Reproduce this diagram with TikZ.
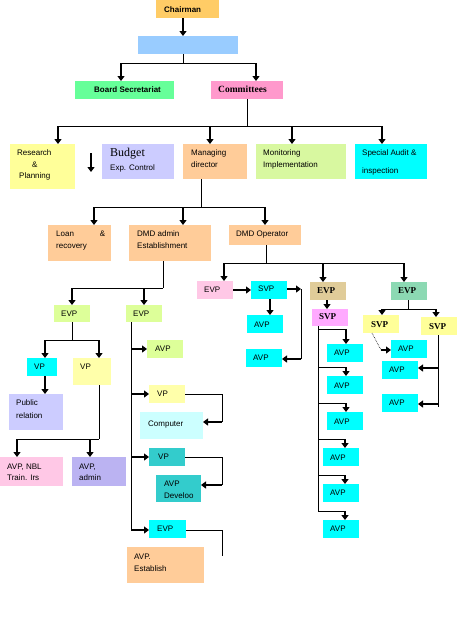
\documentclass[tikz,border=0pt]{standalone}
\usepackage{fontspec}
\setmainfont{Liberation Sans}
\newfontfamily\serifb{Liberation Serif}
\usetikzlibrary{arrows.meta,fit}
\definecolor{cChair}{HTML}{FFCC66}
\definecolor{cBlue}{HTML}{99CCFF}
\definecolor{cBsec}{HTML}{66FF99}
\definecolor{cComm}{HTML}{FF99CC}
\definecolor{cYel}{HTML}{FFFF99}
\definecolor{cYel2}{HTML}{FFFFAA}
\definecolor{cLav}{HTML}{CCCCFF}
\definecolor{cOra}{HTML}{FFCC99}
\definecolor{cMon}{HTML}{D8F8A0}
\definecolor{cCyan}{HTML}{00FFFF}
\definecolor{cYG}{HTML}{DDFF99}
\definecolor{cPinkL}{HTML}{FFC8E6}
\definecolor{cTan}{HTML}{E0CC99}
\definecolor{cPink}{HTML}{FFAAFF}
\definecolor{cGreen}{HTML}{8CD9B3}
\definecolor{cPurp}{HTML}{BBB3F2}
\definecolor{cCompC}{HTML}{CCFFFF}
\definecolor{cTeal}{HTML}{33CCCC}
\newcommand\bx[6]{\node[bxs,fill=#6,fit={(#2,#3) (#4,#5)}] (#1) {};}
\newcommand\tl[4]{\node[tx] (#1) at (#2,#3) {#4};}
\newcommand\SBf[1]{{\serifb\bfseries\fontsize{9}{10}\selectfont #1}}
\begin{document}
\begin{tikzpicture}[x=1pt,y=-1pt,
  bxs/.style={inner sep=0pt,outer sep=0pt,draw=none},
  tx/.style={inner sep=0pt,anchor=west,font=\fontsize{8}{9.6}\selectfont,text height=5.8pt,text depth=0pt},
  arr/.style={line width=1.6pt,-{Triangle[width=7pt,length=5pt]}},
  ln/.style={line width=0.9pt}]
\fill[white] (0,0) rectangle (471,637);
\useasboundingbox (0,0) rectangle (471,637);
% boxes
\bx{chair}{156}{0}{219}{18}{cChair}
\bx{blue}{138}{36}{238}{54}{cBlue}
\bx{bsec}{75}{81}{174}{99}{cBsec}
\bx{comm}{211}{81}{283}{99}{cComm}
\bx{res}{10}{144}{75}{189}{cYel}
\bx{bud}{102}{144}{174}{179}{cLav}
\bx{md}{183}{144}{247}{179}{cOra}
\bx{mon}{256}{144}{346}{179}{cMon}
\bx{aud}{355}{144}{427}{179}{cCyan}
\bx{loan}{48}{225}{111}{261}{cOra}
\bx{dmda}{129}{225}{211}{261}{cOra}
\bx{dmdo}{229}{225}{301}{245}{cOra}
\bx{evpa}{54}{305}{90}{322}{cYG}
\bx{evpb}{126}{305}{162}{322}{cYG}
\bx{evpp}{197}{281}{233}{299}{cPinkL}
\bx{svpc}{251}{281}{287}{299}{cCyan}
\bx{avpca}{247}{315}{283}{333}{cCyan}
\bx{avpcb}{246}{349}{282}{367}{cCyan}
\bx{evpt}{310}{282}{346}{300}{cTan}
\bx{svpp}{312}{309}{348}{326}{cPink}
\bx{avppa}{327}{344}{363}{362}{cCyan}
\bx{avppb}{327}{376}{363}{394}{cCyan}
\bx{avppc}{327}{412}{363}{430}{cCyan}
\bx{avppd}{323}{448}{359}{466}{cCyan}
\bx{avppe}{323}{484}{359}{502}{cCyan}
\bx{avppf}{323}{520}{359}{538}{cCyan}
\bx{evpg}{391}{282}{427}{300}{cGreen}
\bx{svpya}{363}{315}{399}{333}{cYel}
\bx{svpyb}{421}{317}{457}{335}{cYel}
\bx{avpya}{391}{340}{427}{358}{cCyan}
\bx{avpyb}{382}{361}{418}{379}{cCyan}
\bx{avpyc}{382}{394}{418}{412}{cCyan}
\bx{vpc}{27}{358}{57}{376}{cCyan}
\bx{vpy}{73}{358}{111}{385}{cYel2}
\bx{pubr}{9}{394}{63}{430}{cLav}
\bx{avpn}{0}{457}{63}{486}{cPinkL}
\bx{avpa}{72}{457}{126}{486}{cPurp}
\bx{avpg}{147}{340}{183}{358}{cYG}
\bx{vpyb}{149}{385}{185}{403}{cYel2}
\bx{comp}{140}{412}{203}{439}{cCompC}
\bx{vpt}{149}{448}{185}{466}{cTeal}
\bx{avpd}{156}{475}{201}{502}{cTeal}
\bx{evpc}{149}{520}{186}{538}{cCyan}
\bx{avpe}{127}{547}{204}{583}{cOra}
% texts
\tl{chair-t}{164}{9.5}{\bfseries Chairman}
\tl{bsec-t}{94}{90}{\bfseries Board Secretariat}
\tl{comm-t}{218}{90}{{\serifb\bfseries\fontsize{9.5}{10}\selectfont Committees}}
\tl{res-a}{17}{153}{Research}
\tl{res-b}{32}{165}{\&}
\tl{res-c}{19}{176}{Planning}
\tl{bud-a}{110}{154}{{\serifb\fontsize{12}{13}\selectfont Budget}}
\tl{bud-b}{110}{168}{Exp. Control}
\tl{md-a}{191}{153}{Managing}
\tl{md-b}{191}{165}{director}
\tl{mon-a}{263}{153}{Monitoring}
\tl{mon-b}{263}{165}{Implementation}
\tl{aud-a}{362}{153}{Special Audit \&}
\tl{aud-b}{362}{171}{inspection}
\tl{loan-a}{56}{234}{Loan\hspace{26pt}\&}
\tl{loan-b}{56}{246}{recovery}
\tl{dmda-a}{137}{234}{DMD admin}
\tl{dmda-b}{137}{246}{Establishment}
\tl{dmdo-t}{236}{234}{DMD Operator}
\tl{evpa-t}{61}{314}{EVP}
\tl{evpb-t}{133}{314}{EVP}
\tl{evpp-t}{204}{290}{EVP}
\tl{svpc-t}{258}{289}{SVP}
\tl{avpca-t}{254}{325}{AVP}
\tl{avpcb-t}{253}{358}{AVP}
\tl{evpt-t}{317}{291}{\SBf{EVP}}
\tl{svpp-t}{319}{317}{\SBf{SVP}}
\tl{avppa-t}{334}{353}{AVP}
\tl{avppb-t}{334}{386}{AVP}
\tl{avppc-t}{334}{422}{AVP}
\tl{avppd-t}{330}{458}{AVP}
\tl{avppe-t}{330}{493}{AVP}
\tl{avppf-t}{330}{529}{AVP}
\tl{evpg-t}{398}{291}{\SBf{EVP}}
\tl{svpya-t}{371}{325}{\SBf{SVP}}
\tl{svpyb-t}{429}{327}{\SBf{SVP}}
\tl{avpya-t}{398}{349}{AVP}
\tl{avpyb-t}{389}{370}{AVP}
\tl{avpyc-t}{389}{403}{AVP}
\tl{vpc-t}{34}{367}{VP}
\tl{vpy-t}{80}{367}{VP}
\tl{pubr-a}{16}{403}{Public}
\tl{pubr-b}{16}{416}{relation}
\tl{avpn-a}{7}{467}{AVP, NBL}
\tl{avpn-b}{7}{478}{Train. Irs}
\tl{avpa-a}{79}{467}{AVP,}
\tl{avpa-b}{79}{478}{admin}
\tl{avpg-t}{155}{349}{AVP}
\tl{vpyb-t}{157}{394}{VP}
\tl{comp-t}{148}{424}{Computer}
\tl{vpt-t}{158}{457}{VP}
\tl{avpd-a}{164}{484}{AVP}
\tl{avpd-b}{164}{496}{Develoo}
\tl{evpc-t}{157}{529}{EVP}
\tl{avpe-a}{134}{557}{AVP.}
\tl{avpe-b}{134}{569}{Establish}
% connectors: chairman level
\coordinate (k1) at (183,63);
\coordinate (k1a) at (121,63);
\coordinate (k1b) at (256,63);
\draw[arr] (chair.south -| k1) -- (blue.north -| k1);
\draw[ln] (blue.south -| k1) -- (k1);
\draw[ln] (k1a) -- (k1b);
\draw[arr] (k1a) -- (bsec.north -| k1a);
\draw[arr] (k1b) -- (comm.north -| k1b);
% committees level
\coordinate (k2) at (247,126);
\coordinate (k2a) at (58,126);
\coordinate (k2b) at (210,126);
\coordinate (k2c) at (292,126);
\coordinate (k2d) at (382,126);
\draw[ln] (comm.south -| k2) -- (k2);
\draw[ln] (k2a) -- (k2d);
\draw[arr] (k2a) -- (res.north -| k2a);
\draw[arr] (k2b) -- (md.north -| k2b);
\draw[arr] (k2c) -- (mon.north -| k2c);
\draw[arr] (k2d) -- (aud.north -| k2d);
\coordinate (q1) at (91,153);
\coordinate (q2) at (91,172);
\draw[arr] (q1) -- (q2);
% managing director level
\coordinate (k3) at (201,207);
\coordinate (k3a) at (94,207);
\coordinate (k3b) at (183,207);
\coordinate (k3c) at (265,207);
\draw[ln] (md.south -| k3) -- (k3);
\draw[ln] (k3a) -- (k3c);
\draw[arr] (k3a) -- (loan.north -| k3a);
\draw[arr] (k3b) -- (dmda.north -| k3b);
\draw[arr] (k3c) -- (dmdo.north -| k3c);
% DMD admin
\coordinate (k4) at (163,288);
\coordinate (k4a) at (72,288);
\coordinate (k4b) at (144,288);
\draw[ln] (dmda.south -| k4) -- (k4);
\draw[ln] (k4a) -- (k4);
\draw[arr] (k4a) -- (evpa.north -| k4a);
\draw[arr] (k4b) -- (evpb.north -| k4b);
% DMD operator
\coordinate (k5) at (266,263);
\coordinate (k5a) at (224,263);
\coordinate (k5b) at (323,263);
\coordinate (k5c) at (404,263);
\draw[ln] (dmdo.south -| k5) -- (k5);
\draw[ln] (k5a) -- (k5c);
\draw[arr] (k5a) -- (evpp.north -| k5a);
\draw[arr] (k5b) -- (evpt.north -| k5b);
\draw[arr] (k5c) -- (evpg.north -| k5c);
% EVP pink -> SVP
\coordinate (y6) at (0,290);
\draw[arr] (evpp.east |- y6) -- (svpc.west |- y6);
\coordinate (x7) at (270,0);
\draw[arr] (svpc.south -| x7) -- (avpca.north -| x7);
\coordinate (k8a) at (301,289);
\coordinate (k8b) at (301,359);
\draw[arr] (svpc.east |- k8a) -- (k8a);
\draw[ln] (k8a) -- (k8b);
\draw[arr] (k8b) -- (avpcb.east |- k8b);
% EVP tan -> SVP pink -> AVPs
\coordinate (x9) at (327,0);
\draw[arr] (evpt.south -| x9) -- (svpp.north -| x9);
\coordinate (tx) at (318,0);
\coordinate (t1) at (318,329);
\coordinate (t2) at (318,367);
\coordinate (t3) at (318,403);
\coordinate (t4) at (318,439);
\coordinate (t5) at (318,475);
\coordinate (t6) at (318,511);
\coordinate (u1) at (346,329);
\coordinate (u2) at (346,367);
\coordinate (u3) at (346,403);
\coordinate (u4) at (345,439);
\coordinate (u5) at (345,475);
\coordinate (u6) at (345,511);
\draw[ln] (svpp.south -| tx) -- (t6);
\draw[ln] (t1) -- (u1); \draw[arr] (u1) -- (avppa.north -| u1);
\draw[ln] (t2) -- (u2); \draw[arr] (u2) -- (avppb.north -| u2);
\draw[ln] (t3) -- (u3); \draw[arr] (u3) -- (avppc.north -| u3);
\draw[ln] (t4) -- (u4); \draw[arr] (u4) -- (avppd.north -| u4);
\draw[ln] (t5) -- (u5); \draw[arr] (u5) -- (avppe.north -| u5);
\draw[ln] (t6) -- (u6); \draw[arr] (u6) -- (avppf.north -| u6);
% EVP green
\coordinate (k10) at (408,309);
\coordinate (k10a) at (382,309);
\coordinate (k10b) at (436,309);
\draw[ln] (evpg.south -| k10) -- (k10);
\draw[ln] (k10a) -- (k10b);
\draw[arr] (k10a) -- (svpya.north -| k10a);
\draw[arr] (k10b) -- (svpyb.north -| k10b);
\coordinate (d1) at (372,0);
\coordinate (d2) at (381,350);
\draw[line width=0.6pt,densely dotted] (svpya.south -| d1) -- (d2);
\draw[arr] (d2) -- (avpya.west |- d2);
\coordinate (k11) at (438,407);
\coordinate (k11a) at (438,368);
\coordinate (k11b) at (438,404);
\draw[ln] (svpyb.south -| k11) -- (k11);
\draw[arr] (k11a) -- (avpyb.east |- k11a);
\draw[arr] (k11b) -- (avpyc.east |- k11b);
% left EVP
\coordinate (k12) at (72,340);
\coordinate (k12a) at (45,340);
\coordinate (k12b) at (99,340);
\draw[ln] (evpa.south -| k12) -- (k12);
\draw[ln] (k12a) -- (k12b);
\draw[arr] (k12a) -- (vpc.north -| k12a);
\draw[arr] (k12b) -- (vpy.north -| k12b);
\coordinate (x13) at (45,0);
\draw[arr] (vpc.south -| x13) -- (pubr.north -| x13);
\coordinate (k14) at (99,439);
\coordinate (k14a) at (17,439);
\coordinate (k14b) at (90,439);
\draw[ln] (vpy.south -| k14) -- (k14);
\draw[ln] (k14a) -- (k14);
\draw[arr] (k14a) -- (avpn.north -| k14a);
\draw[arr] (k14b) -- (avpa.north -| k14b);
% second EVP trunk
\coordinate (k15) at (131,530);
\coordinate (k15a) at (131,349);
\coordinate (k15b) at (131,394);
\coordinate (k15c) at (131,457);
\draw[ln] (evpb.south -| k15) -- (k15);
\draw[arr] (k15a) -- (avpg.west |- k15a);
\draw[arr] (k15b) -- (vpyb.west |- k15b);
\draw[arr] (k15c) -- (vpt.west |- k15c);
\draw[arr] (k15) -- (evpc.west |- k15);
\coordinate (k16a) at (222,394);
\coordinate (k16b) at (222,422);
\draw[ln] (vpyb.east |- k16a) -- (k16a) -- (k16b);
\draw[arr] (k16b) -- (comp.east |- k16b);
\coordinate (k17a) at (222,457);
\coordinate (k17b) at (222,485);
\draw[ln] (vpt.east |- k17a) -- (k17a) -- (k17b);
\draw[arr] (k17b) -- (avpd.east |- k17b);
\coordinate (k18a) at (222,530);
\coordinate (k18b) at (222,556);
\draw[ln] (evpc.east |- k18a) -- (k18a) -- (k18b);
\end{tikzpicture}
\end{document}
